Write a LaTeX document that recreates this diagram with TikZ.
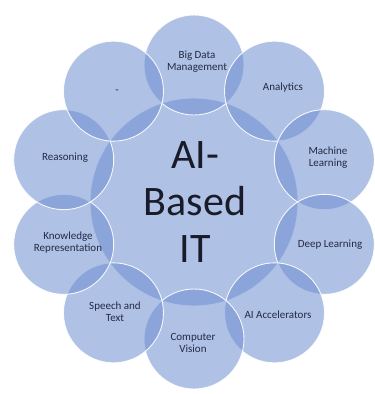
\documentclass[tikz,border=0pt]{standalone}
\usepackage{fontspec}
\setmainfont{Carlito}
\usetikzlibrary{calc}
\definecolor{bub}{RGB}{110,143,209}
\definecolor{txt}{RGB}{35,42,70}
\definecolor{bigtxt}{RGB}{25,28,40}
\begin{document}
\begin{tikzpicture}[x=1pt,y=-1pt,
  bubble/.style={circle, fill=bub, fill opacity=0.55, draw=white, draw opacity=0.9, line width=0.9pt, inner sep=0pt, outer sep=0pt},
  small/.style={align=center, text=txt, font=\fontsize{11}{12}\selectfont, inner sep=0pt},
  ]
\fill[white] (0,0) rectangle (375,394);
\useasboundingbox (0,0) rectangle (375,394);
\node[bubble, minimum size=208pt] (hub) at (194,202) {};
\foreach \n/\a in {bd/90, an/54, ml/18, dl/-18, acc/-54, cv/-90, st/-126, kr/-162, re/162, blank/126}
  \node[bubble, minimum size=100pt] (\n) at ($(hub)+(\a:137pt)$) {};
\node[small] (tbd) at (197,62) {Big Data\\Management};
\node[small] (tan) at (283,88) {Analytics};
\node[small] (tml) at (328,158) {Machine\\Learning};
\node[small] (tdl) at (330,245) {Deep Learning};
\node[small] (tacc) at (278,315) {AI Accelerators};
\node[small] (tcv) at (193,343) {Computer\\Vision};
\node[small] (tst) at (115,312) {Speech and\\Text};
\node[small] (tkr) at (68,243) {Knowledge\\Representation};
\node[small] (tre) at (65,158) {Reasoning};
\node[small] (tblank) at (117,92) {-};
\node[align=center, text=bigtxt, font=\fontsize{42}{47}\selectfont, inner sep=0pt] (title) at (195,202) {AI-\\Based\\IT};
\end{tikzpicture}
\end{document}
